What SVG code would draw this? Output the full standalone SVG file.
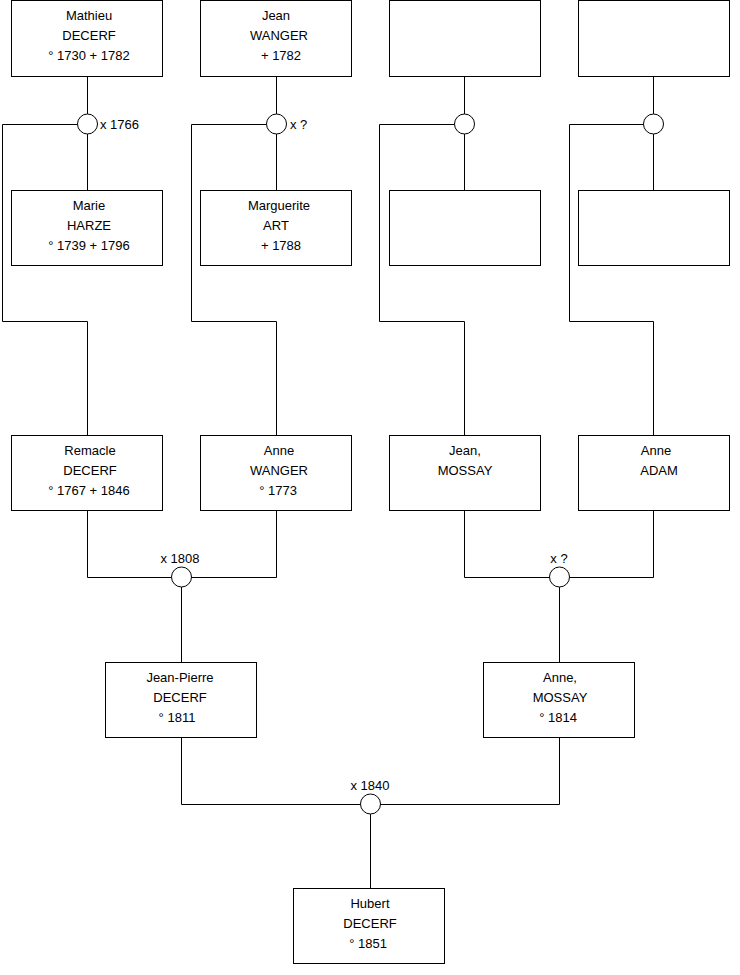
<svg xmlns="http://www.w3.org/2000/svg" width="740" height="975" viewBox="0 0 740 975">
<style>
.box{fill:#fff;stroke:#000;stroke-width:1}
.link{fill:none;stroke:#000;stroke-width:1}
.m{fill:#fff;stroke:#000;stroke-width:1}
text{font-family:"Liberation Sans",Arial,sans-serif;font-size:13px;fill:#000;text-anchor:middle}
.lbl{text-anchor:start}
</style>
<rect width="740" height="975" fill="#fff"/>
<g id="connectors">
<path class="link" d="M87.5 76.5V114 M87.5 134V190.5 M77.5 124.5H2.5V321.5H87.5V435.5"/>
<path class="link" d="M276.5 76.5V114 M276.5 134V190.5 M266.5 124.5H191.5V321.5H276.5V435.5"/>
<path class="link" d="M464.5 76.5V114 M464.5 134V190.5 M454.5 124.5H379.5V321.5H464.5V435.5"/>
<path class="link" d="M653.5 76.5V114 M653.5 134V190.5 M643.5 124.5H569.5V321.5H653.5V435.5"/>
<path class="link" d="M87.5 510.5V577.5H171 M191 577.5H276.5V510.5 M181.5 587V662.5"/>
<path class="link" d="M464.5 510.5V577.5H549 M569 577.5H653.5V510.5 M559.5 587V662.5"/>
<path class="link" d="M181.5 737.5V804.5H360 M380 804.5H559.5V737.5 M370.5 814V888.5"/>
</g>
<g id="m1"><circle class="m" cx="87.5" cy="124" r="10"/><text class="lbl" x="100" y="129">x 1766</text></g>
<g id="m2"><circle class="m" cx="276.5" cy="124" r="10"/><text class="lbl" x="290" y="129">x ?</text></g>
<g id="m3"><circle class="m" cx="464.5" cy="124" r="10"/></g>
<g id="m4"><circle class="m" cx="653.5" cy="124" r="10"/></g>
<g id="m5"><circle class="m" cx="181.5" cy="577" r="10"/><text x="180" y="563">x 1808</text></g>
<g id="m6"><circle class="m" cx="559.5" cy="577" r="10"/><text x="559" y="563">x ?</text></g>
<g id="m7"><circle class="m" cx="370.5" cy="804" r="10"/><text x="370" y="790">x 1840</text></g>
<g id="mathieu"><rect class="box" x="11.5" y="0.5" width="151" height="76"/><text x="89" y="20">Mathieu</text><text x="89" y="40">DECERF</text><text x="89" y="60">° 1730 + 1782</text></g>
<g id="jean-wanger"><rect class="box" x="200.5" y="0.5" width="151" height="76"/><text x="276" y="20">Jean</text><text x="279" y="40">WANGER</text><text x="281" y="60">+ 1782</text></g>
<g id="p3"><rect class="box" x="389.5" y="0.5" width="151" height="76"/></g>
<g id="p4"><rect class="box" x="578.5" y="0.5" width="151" height="76"/></g>
<g id="marie"><rect class="box" x="11.5" y="190.5" width="151" height="75"/><text x="89" y="210">Marie</text><text x="89" y="230">HARZE</text><text x="89" y="250">° 1739 + 1796</text></g>
<g id="marguerite"><rect class="box" x="200.5" y="190.5" width="151" height="75"/><text x="279" y="210">Marguerite</text><text x="276" y="230">ART</text><text x="281" y="250">+ 1788</text></g>
<g id="p7"><rect class="box" x="389.5" y="190.5" width="151" height="75"/></g>
<g id="p8"><rect class="box" x="578.5" y="190.5" width="151" height="75"/></g>
<g id="remacle"><rect class="box" x="11.5" y="435.5" width="151" height="75"/><text x="90" y="455">Remacle</text><text x="90" y="475">DECERF</text><text x="89" y="495">° 1767 + 1846</text></g>
<g id="anne-wanger"><rect class="box" x="200.5" y="435.5" width="151" height="75"/><text x="279" y="455">Anne</text><text x="279" y="475">WANGER</text><text x="278" y="495">° 1773</text></g>
<g id="jean-mossay"><rect class="box" x="389.5" y="435.5" width="151" height="75"/><text x="465" y="455">Jean,</text><text x="465" y="475">MOSSAY</text></g>
<g id="anne-adam"><rect class="box" x="578.5" y="435.5" width="151" height="75"/><text x="656" y="455">Anne</text><text x="659" y="475">ADAM</text></g>
<g id="jean-pierre"><rect class="box" x="105.5" y="662.5" width="151" height="75"/><text x="180" y="682">Jean-Pierre</text><text x="180" y="702">DECERF</text><text x="177" y="722">° 1811</text></g>
<g id="anne-mossay"><rect class="box" x="483.5" y="662.5" width="151" height="75"/><text x="560" y="682">Anne,</text><text x="560" y="702">MOSSAY</text><text x="558" y="722">° 1814</text></g>
<g id="hubert"><rect class="box" x="293.5" y="888.5" width="151" height="75"/><text x="370" y="908">Hubert</text><text x="370" y="928">DECERF</text><text x="368" y="948">° 1851</text></g>
</svg>
